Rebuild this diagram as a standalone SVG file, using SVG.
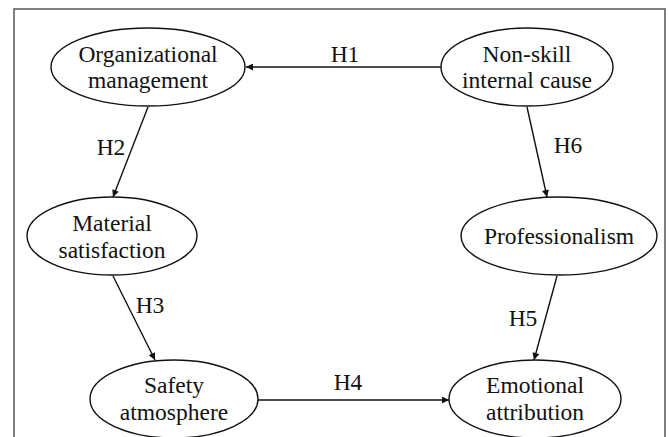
<svg xmlns="http://www.w3.org/2000/svg" width="669" height="437" viewBox="0 0 669 437">
  <style>
    .node ellipse { fill: #ffffff; stroke: #111111; stroke-width: 1.4; }
    .node text, .label { font-family: "Liberation Serif", "Times New Roman", serif; font-size: 23.5px; fill: #111111; text-anchor: middle; }
    .edge { stroke: #111111; stroke-width: 1.4; fill: none; marker-end: url(#arrow); }
  </style>
  <defs>
    <marker id="arrow" viewBox="0 0 10 10" refX="10" refY="5" markerWidth="9" markerHeight="7" markerUnits="userSpaceOnUse" orient="auto">
      <path d="M0,0 L10,5 L0,10 z" fill="#111111"/>
    </marker>
  </defs>

  <rect width="669" height="437" fill="#ffffff"/>
  <!-- outer frame -->
  <rect x="14" y="9" width="651" height="440" fill="none" stroke="#555555" stroke-width="1.5"/>

  <g id="connectors">
    <line class="edge" x1="441" y1="67" x2="246" y2="67"/>
    <line class="edge" x1="148" y1="107" x2="113" y2="197"/>
    <line class="edge" x1="113" y1="276" x2="155" y2="360"/>
    <line class="edge" x1="258" y1="400" x2="449" y2="400"/>
    <line class="edge" x1="557" y1="276" x2="534" y2="360"/>
    <line class="edge" x1="527" y1="107" x2="547" y2="197"/>
    <text class="label" x="345" y="62">H1</text>
    <text class="label" x="111" y="155">H2</text>
    <text class="label" x="150" y="313">H3</text>
    <text class="label" x="348" y="390">H4</text>
    <text class="label" x="523" y="326">H5</text>
    <text class="label" x="568" y="153">H6</text>
  </g>

  <g id="organizational-management" class="node">
    <ellipse cx="148" cy="67" rx="97" ry="39"/>
    <text x="148" y="62">Organizational</text>
    <text x="148" y="88">management</text>
  </g>
  <g id="non-skill-internal-cause" class="node">
    <ellipse cx="527" cy="67" rx="86" ry="39"/>
    <text x="527" y="62">Non-skill</text>
    <text x="527" y="88">internal cause</text>
  </g>
  <g id="material-satisfaction" class="node">
    <ellipse cx="112" cy="236" rx="85" ry="39"/>
    <text x="112" y="231">Material</text>
    <text x="112" y="258">satisfaction</text>
  </g>
  <g id="professionalism" class="node">
    <ellipse cx="559" cy="236" rx="98" ry="39"/>
    <text x="559" y="244">Professionalism</text>
  </g>
  <g id="safety-atmosphere" class="node">
    <ellipse cx="174" cy="399" rx="84" ry="39"/>
    <text x="174" y="393">Safety</text>
    <text x="174" y="420">atmosphere</text>
  </g>
  <g id="emotional-attribution" class="node">
    <ellipse cx="535" cy="399" rx="86" ry="39"/>
    <text x="535" y="393">Emotional</text>
    <text x="535" y="420">attribution</text>
  </g>
</svg>
